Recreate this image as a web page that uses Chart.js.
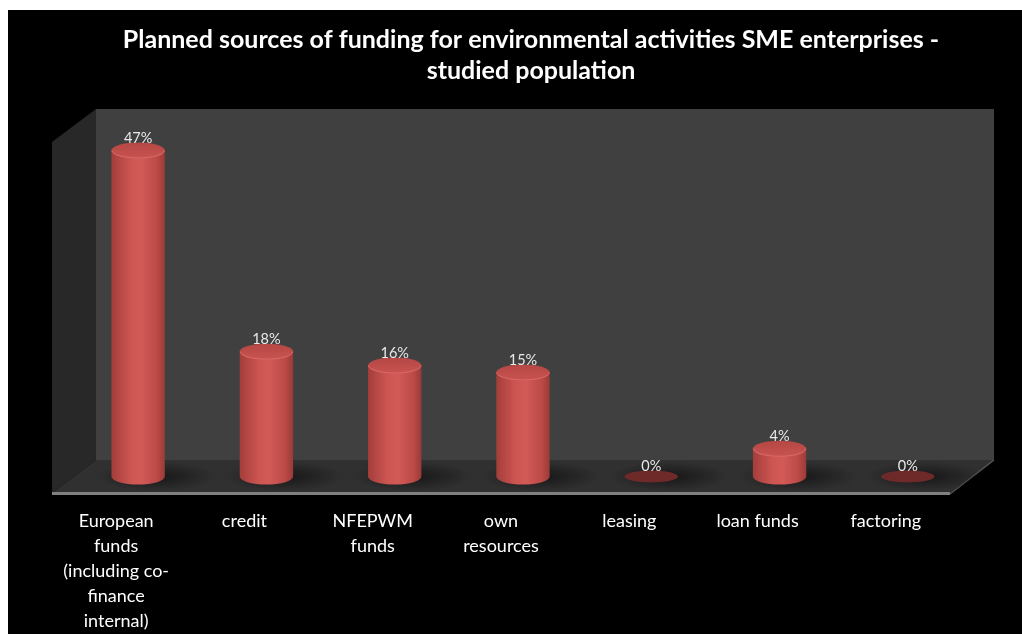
<!DOCTYPE html>
<html><head><meta charset="utf-8">
<script src="https://cdn.jsdelivr.net/npm/chart.js@4.4.0/dist/chart.umd.min.js"></script>
<style>
html,body{margin:0;padding:0;background:#fff;}
#wrap{position:absolute;left:8px;top:10px;width:1014px;height:624px;background:#000;}
canvas{display:block;}
</style></head><body>
<div id="wrap"><canvas id="c" width="1014" height="624"></canvas></div>
<script>
const categories = [["European","funds","(including co-","finance","internal)"],"credit",["NFEPWM","funds"],["own","resources"],"leasing","loan funds","factoring"];
const values = [47,18,16,15,0,4,0];
const valueLabels = ["47%","18%","16%","15%","0%","4%","0%"];
const titleLines = ["Planned sources of funding for environmental activities SME enterprises -","studied population"];
const Y_MAX = 50.6;

const DEPTH_X = 44, DEPTH_Y = -33;
const MID_X = 22, MID_Y = -16.5;

const walls = {
  id: 'walls',
  beforeDatasetsDraw(chart) {
    const ctx = chart.ctx, a = chart.chartArea;
    const L = a.left, R = a.right, T = a.top, B = a.bottom;
    ctx.save();
    ctx.fillStyle = '#404040';
    ctx.fillRect(L + DEPTH_X, T + DEPTH_Y, R - L, B - T);
    ctx.fillStyle = '#282828';
    ctx.beginPath();
    ctx.moveTo(L, T); ctx.lineTo(L + DEPTH_X, T + DEPTH_Y);
    ctx.lineTo(L + DEPTH_X, B + DEPTH_Y); ctx.lineTo(L, B); ctx.closePath(); ctx.fill();
    ctx.fillStyle = '#303030';
    ctx.beginPath();
    ctx.moveTo(L, B); ctx.lineTo(R, B); ctx.lineTo(R + DEPTH_X, B + DEPTH_Y);
    ctx.lineTo(L + DEPTH_X, B + DEPTH_Y); ctx.closePath(); ctx.fill();
    ctx.fillStyle = '#808080';
    ctx.fillRect(L, B - 1, R - L, 3);
    ctx.strokeStyle = '#555';
    ctx.lineWidth = 1.5;
    ctx.beginPath(); ctx.moveTo(R, B + 1); ctx.lineTo(R + DEPTH_X, B + DEPTH_Y); ctx.stroke();
    ctx.restore();
  },
  afterDatasetsDraw(chart) {
    const ctx = chart.ctx;
    const meta = chart.getDatasetMeta(0);
    ctx.save();
    meta.data.forEach((el, i) => {
      const p = el.getProps(['x', 'y', 'base', 'width'], true);
      const cx = p.x + MID_X;
      const top = p.y + MID_Y;
      const base = p.base + MID_Y;
      const r = p.width / 2;
      const sg = ctx.createRadialGradient(cx + 18, base, 2, cx + 18, base, 60);
      sg.addColorStop(0, 'rgba(0,0,0,0.5)');
      sg.addColorStop(1, 'rgba(0,0,0,0)');
      ctx.save();
      ctx.translate(0, base); ctx.scale(1, 0.25); ctx.translate(0, -base);
      ctx.fillStyle = sg;
      ctx.beginPath(); ctx.arc(cx + 18, base, 60, 0, Math.PI * 2); ctx.fill();
      ctx.restore();
      let labelY;
      if (top >= base - 0.5) {
        const ry = 6;
        ctx.fillStyle = '#6e2a28';
        ctx.beginPath(); ctx.ellipse(cx, base, r, ry, 0, 0, Math.PI * 2); ctx.fill();
        labelY = base - ry - 4;
      } else {
        const ry = 8;
        const g = ctx.createLinearGradient(cx - r, 0, cx + r, 0);
        g.addColorStop(0, '#a33e3b');
        g.addColorStop(0.35, '#cc5451');
        g.addColorStop(0.55, '#d35a57');
        g.addColorStop(0.85, '#bb4a47');
        g.addColorStop(1, '#9a3a38');
        ctx.fillStyle = g;
        ctx.beginPath();
        ctx.moveTo(cx - r, top);
        ctx.lineTo(cx - r, base);
        ctx.ellipse(cx, base, r, ry, 0, Math.PI, 0, true);
        ctx.lineTo(cx + r, top);
        ctx.closePath();
        ctx.fill();
        const tg = ctx.createLinearGradient(0, top - ry, 0, top + ry);
        tg.addColorStop(0, '#b44744');
        tg.addColorStop(1, '#c95350');
        ctx.fillStyle = tg;
        ctx.beginPath(); ctx.ellipse(cx, top, r, ry, 0, 0, Math.PI * 2); ctx.fill();
        ctx.strokeStyle = '#d96b67';
        ctx.lineWidth = 1;
        ctx.beginPath(); ctx.ellipse(cx, top, r - 0.5, ry - 0.5, 0, 0, Math.PI); ctx.stroke();
        labelY = top - ry - 4.5;
      }
      ctx.fillStyle = '#e8e8e8';
      ctx.font = '14.5px Lato';
      ctx.textAlign = 'center';
      ctx.textBaseline = 'middle';
      ctx.fillText(valueLabels[i], cx, labelY);
    });
    ctx.restore();
  }
};

new Chart(document.getElementById('c'), {
  type: 'bar',
  data: {
    labels: categories,
    datasets: [{
      data: values,
      backgroundColor: 'rgba(0,0,0,0)',
      borderWidth: 0,
      barPercentage: 0.52,
      categoryPercentage: 0.8
    }]
  },
  options: {
    responsive: false,
    animation: false,
    layout: { padding: { left: 32, right: 0, top: 0, bottom: 0 } },
    plugins: {
      legend: { display: false },
      tooltip: { enabled: false },
      title: {
        display: true,
        text: titleLines,
        color: '#ffffff',
        font: { family: 'Lato', size: 25, weight: 'bold', lineHeight: 1.25 },
        padding: { top: 14, bottom: 55.5 }
      }
    },
    scales: {
      x: {
        grid: { display: false },
        border: { display: false },
        ticks: {
          color: '#ffffff',
          font: { family: 'Lato', size: 18, lineHeight: 1.39 },
          padding: 8,
          maxRotation: 0,
          autoSkip: false
        },
        afterFit(s) { s.height = 141; }
      },
      y: {
        min: 0, max: Y_MAX,
        grid: { display: false },
        border: { display: false },
        ticks: { display: false },
        afterFit(s) { s.width = 12; }
      },
      y2: {
        type: 'linear',
        position: 'right',
        grid: { display: false },
        border: { display: false },
        ticks: { display: false },
        afterFit(s) { s.width = 72; }
      }
    }
  },
  plugins: [walls]
});
</script>
</body></html>
